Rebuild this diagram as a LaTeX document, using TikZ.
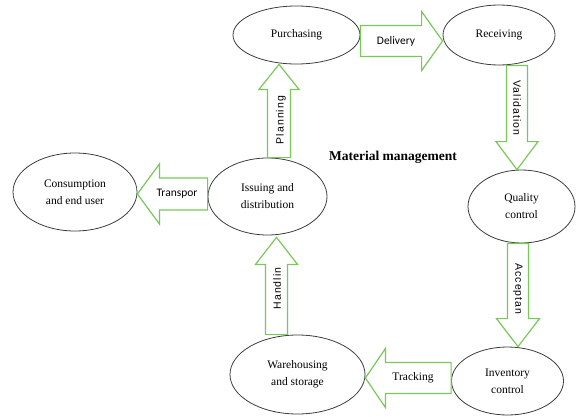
\documentclass[tikz,border=0pt]{standalone}
\usepackage{fontspec}
\setmainfont{Liberation Serif}
\newfontfamily\lblfont{Carlito}
\newfontfamily\vlblfont[LetterSpace=10]{Liberation Sans}
\usetikzlibrary{shapes.geometric,calc}
\definecolor{arrowgreen}{RGB}{120,200,90}
\definecolor{ellgray}{RGB}{60,60,60}
\newcommand{\blockarrow}[5]{%
  \draw[blk] let \p1=(#1), \p2=(#2),
      \n1={atan2(\y2-\y1,\x2-\x1)}, \n2={veclen(\x2-\x1,\y2-\y1)} in
    ($(\p1)+({\n1+90}:#3)$) -- ($(\p1)+(\n1:{\n2-#5})+({\n1+90}:#3)$)
    -- ($(\p1)+(\n1:{\n2-#5})+({\n1+90}:#4)$) -- (\p2)
    -- ($(\p1)+(\n1:{\n2-#5})+({\n1-90}:#4)$)
    -- ($(\p1)+(\n1:{\n2-#5})+({\n1-90}:#3)$)
    -- ($(\p1)+({\n1-90}:#3)$) -- cycle;}
\begin{document}
\begin{tikzpicture}[
    x=1pt, y=1pt,
    stage/.style={ellipse, draw=ellgray, line width=0.8pt, inner sep=0pt,
                  align=center, font=\fontsize{11.5}{17}\selectfont},
    blk/.style={draw=arrowgreen, line width=1.2pt, fill=white},
    hlbl/.style={font=\lblfont\fontsize{11.5}{13}\selectfont, inner sep=0pt},
    vlbl/.style={font=\vlblfont\fontsize{10.5}{12}\selectfont, inner sep=0pt},
    title/.style={font=\bfseries\fontsize{13.5}{16}\selectfont}
  ]
    \useasboundingbox (0,0) rectangle (577,416);

    \node[stage, minimum width=127, minimum height=58] (purch) at (296.5,381)   {Purchasing};
    \node[stage, minimum width=112, minimum height=60] (recv)  at (499,381)     {Receiving};
    \node[stage, minimum width=107, minimum height=73] (qual)  at (521.5,209.5) {Quality\\control};
    \node[stage, minimum width=119, minimum height=77] (issue) at (267.5,219.5) {Issuing and\\distribution};
    \node[stage, minimum width=124, minimum height=78] (cons)  at (75,224)      {Consumption\\and end user};
    \node[stage, minimum width=135, minimum height=79] (ware)  at (297.5,41.5)  {Warehousing\\and storage};
    \node[stage, minimum width=112, minimum height=68] (inv)   at (507.5,35)    {Inventory\\control};

    \blockarrow{[yshift=-6]purch.east}{[yshift=-6]recv.west}{15.5}{29.5}{21}
    \blockarrow{[xshift=18]recv.south}{[xshift=-4.5]qual.north}{10.5}{21}{28}
    \blockarrow{[xshift=-3.5]qual.south}{[xshift=10.5]inv.north}{10.5}{21.5}{28}
    \blockarrow{[yshift=3]inv.west}{[yshift=-3.5]ware.east}{15.5}{29.5}{20}
    \blockarrow{[xshift=-21]ware.north}{[xshift=9,yshift=-2]issue.south}{11}{21}{27}
    \blockarrow{[xshift=11.5]issue.north}{[xshift=-17.5]purch.south}{11.5}{20}{25}
    \blockarrow{[yshift=2.5]issue.west}{[yshift=-2]cons.east}{16}{30}{22}

    \node[hlbl] (deliv) at (396,375) {Delivery};
    \node[vlbl, rotate=-90] (valid) at (517,308) {Validation};
    \node[vlbl, rotate=-90] (accept) at (518,127) {Acceptan};
    \node[hlbl, font=\fontsize{11.5}{13}\selectfont] (track) at (413,38) {Tracking};
    \node[vlbl, rotate=90] (handl) at (277,127.5) {Handlin};
    \node[vlbl, rotate=90] (plan) at (281,296) {Planning};
    \node[hlbl] (transp) at (177,222) {Transpor};

    \node[title] (mm) at (393,259) {Material management};
  \end{tikzpicture}
\end{document}
